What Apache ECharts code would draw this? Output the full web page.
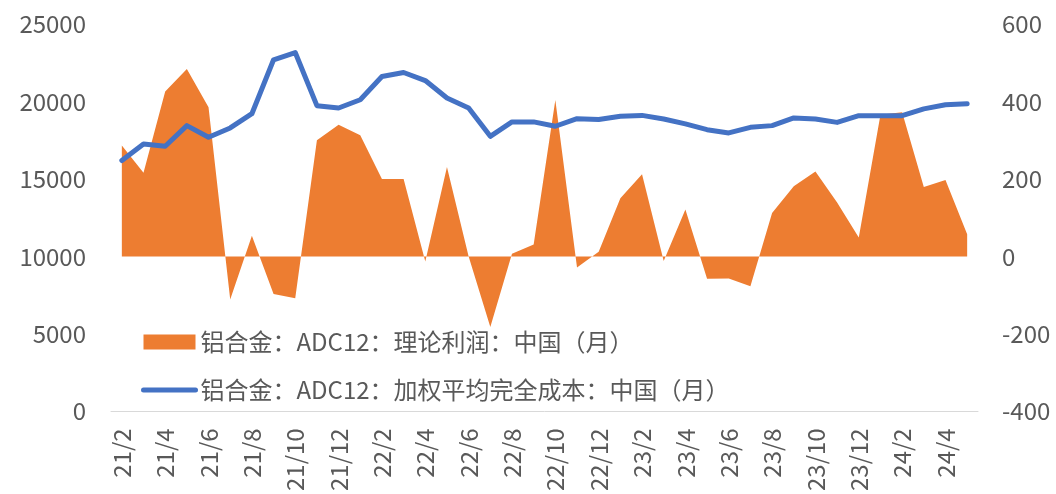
<!DOCTYPE html>
<html>
<head>
<meta charset="utf-8">
<script src="https://cdn.jsdelivr.net/npm/echarts@6/dist/echarts.min.js"></script>
<style>
	html, body { margin: 0; padding: 0; background: #fff; }
	#main { width: 1056px; height: 494px; }
</style>
</head>
<body>
<div id="main"></div>
<script>
	// 月份 21/2 - 24/5
	var months = ['21/2', '21/3', '21/4', '21/5', '21/6', '21/7', '21/8', '21/9', '21/10', '21/11', '21/12',
		'22/1', '22/2', '22/3', '22/4', '22/5', '22/6', '22/7', '22/8', '22/9', '22/10', '22/11', '22/12',
		'23/1', '23/2', '23/3', '23/4', '23/5', '23/6', '23/7', '23/8', '23/9', '23/10', '23/11', '23/12',
		'24/1', '24/2', '24/3', '24/4', '24/5'];

	// 理论利润（右轴）
	var profit = [286, 216, 426, 484, 385, -111, 53, -97, -108, 300, 340, 313, 200, 200, -13, 231, 0, -182, 7, 31,
		404, -29, 12, 150, 212, -12, 121, -58, -57, -77, 112, 181, 219, 139, 49, 366, 372, 179, 197, 57];

	// 加权平均完全成本（左轴）
	var cost = [16190, 17260, 17110, 18440, 17690, 18290, 19210, 22690, 23160, 19730, 19580, 20110, 21610, 21870,
		21350, 20220, 19580, 17750, 18680, 18680, 18400, 18890, 18830, 19040, 19100, 18870, 18550, 18180, 17970,
		18330, 18440, 18940, 18870, 18650, 19080, 19080, 19080, 19520, 19790, 19860];

	var profitName = '铝合金：ADC12：理论利润：中国（月）';
	var costName = '铝合金：ADC12：加权平均完全成本：中国（月）';

	var font = '"Microsoft YaHei", "Noto Sans CJK SC", sans-serif';
	var gray = '#595959';

	var chart = echarts.init(document.getElementById('main'));

	var option = {
		animation: false,
		grid: {
			left: 111,
			right: 78,
			top: 24,
			bottom: 81
		},
		legend: {
			orient: 'vertical',
			left: 141,
			top: 330,
			padding: 0,
			itemWidth: 52,
			itemHeight: 15,
			itemGap: 24,
			textStyle: {
				fontSize: 24,
				color: gray,
				fontFamily: font
			},
			data: [{
				name: profitName,
				icon: 'rect'
			}, {
				name: costName,
				itemStyle: { opacity: 0 },
				lineStyle: { width: 5, cap: 'round' }
			}]
		},
		xAxis: {
			type: 'category',
			data: months,
			boundaryGap: true,
			axisLine: {
				lineStyle: { color: '#d9d9d9', width: 1 }
			},
			axisTick: {
				interval: 1,
				length: 7,
				lineStyle: { color: '#d9d9d9' }
			},
			axisLabel: {
				interval: 1,
				rotate: 90,
				margin: 17,
				fontSize: 24,
				color: gray,
				fontFamily: font
			}
		},
		yAxis: [{
			type: 'value',
			min: 0,
			max: 25000,
			interval: 5000,
			splitLine: { show: false },
			axisLine: { show: false },
			axisTick: { show: false },
			axisLabel: {
				margin: 25,
				fontSize: 24,
				color: gray,
				fontFamily: font,
				formatter: function(v) {
					return String(v);
				}
			}
		}, {
			type: 'value',
			min: -400,
			max: 600,
			interval: 200,
			splitLine: { show: false },
			axisLine: { show: false },
			axisTick: { show: false },
			axisLabel: {
				margin: 24,
				fontSize: 24,
				color: gray,
				fontFamily: font,
				formatter: function(v) {
					return String(v);
				}
			}
		}],
		series: [{
			name: profitName,
			type: 'line',
			yAxisIndex: 1,
			data: profit,
			symbol: 'none',
			color: '#ED7D31',
			itemStyle: { color: '#ED7D31' },
			lineStyle: { width: 0 },
			areaStyle: { color: '#ED7D31', opacity: 1, origin: 0 },
			z: 2
		}, {
			name: costName,
			type: 'line',
			yAxisIndex: 0,
			data: cost,
			symbol: 'none',
			color: '#4472C4',
			lineStyle: { width: 5, color: '#4472C4', cap: 'round', join: 'round' },
			z: 3
		}]
	};

	chart.setOption(option);
</script>
</body>
</html>
